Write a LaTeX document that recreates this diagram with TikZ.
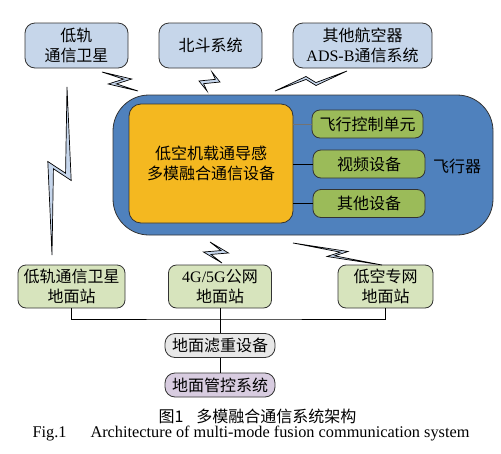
\documentclass[tikz,border=0pt]{standalone}
\usepackage{fontspec}
\setmainfont{Liberation Serif}
\newfontfamily\cjk{Noto Sans CJK SC}
\usetikzlibrary{calc}
\definecolor{skyblue}{HTML}{C6D6EA}
\definecolor{planeblue}{HTML}{4F81BD}
\definecolor{coreyellow}{HTML}{F4B820}
\definecolor{unitgreen}{HTML}{9BBB59}
\definecolor{stationgreen}{HTML}{D7E4BD}
\definecolor{filtergray}{HTML}{E8E8E8}
\definecolor{ctrlpurple}{HTML}{D8CCE0}
\definecolor{boltblue}{HTML}{C6D6EC}
% lightning link: from #1 to #2, #3 = offset of the zig corner
\newcommand{\bolt}[3]{%
  \coordinate (bm) at ($(#1)!0.5!(#2)$);
  \draw [boltline] (#1) -- ($(bm)+(#3)$) -- ($(bm)!2.5pt!(#2)-0.5*(#3)$) -- (#2)
    -- ($(bm)-(#3)$) -- ($(bm)!2.5pt!(#1)+0.5*(#3)$) -- cycle;
}
\begin{document}
\begin{tikzpicture}[x=1pt, y=-1pt,
    box/.style={draw=black!80, line width=0.8pt, rounded corners=8pt, inner sep=0pt,
      align=center, font=\cjk\fontsize{16}{20}\selectfont},
    skybox/.style={box, fill=skyblue, rounded corners=10pt, minimum height=45pt},
    unitbox/.style={box, fill=unitgreen, minimum width=112pt, minimum height=28pt},
    stationbox/.style={box, fill=stationgreen, minimum height=43pt},
    groundbox/.style={box, rounded corners=10pt, minimum width=110pt, minimum height=24pt},
    boltline/.style={draw=black, fill=boltblue, line width=0.7pt},
    link/.style={draw=black, line width=0.8pt}]
  \useasboundingbox (0,0) rectangle (501,453);

  \node [skybox, minimum width=103pt] (leo) at (76.5,45.5) {低轨\\通信卫星};
  \node [skybox, minimum width=103pt] (bds) at (210.5,45.5) {北斗系统};
  \node [skybox, minimum width=139pt] (adsb) at (362.5,45.5) {其他航空器\\{\rmfamily ADS-B}通信系统};

  \node [box, fill=planeblue, rounded corners=36pt, minimum width=380pt, minimum height=140pt] (plane) at (303,165) {};
  \node [box, fill=coreyellow, rounded corners=12pt, minimum width=164pt, minimum height=119pt] (core) at (211,163.5) {低空机载通导感\\多模融合通信设备};
  \node [unitbox, minimum width=111pt] (fcu) at (367.5,124) {飞行控制单元};
  \node [unitbox] (video) at (369,164) {视频设备};
  \node [unitbox] (other) at (369,203.5) {其他设备};
  \node [font=\cjk\fontsize{16}{20}\selectfont] (planelbl) at (457,166) {飞行器};
  \draw [link, draw=black!55] (fcu.west -| core.east) -- (fcu.west);
  \draw [link] (video.west -| core.east) -- (video.west);
  \draw [link] (other.west -| core.east) -- (other.west);

  \node [stationbox, minimum width=107pt] (leost) at (71.5,286.5) {低轨通信卫星\\地面站};
  \node [stationbox, minimum width=103pt] (cell) at (220,286.5) {{\rmfamily 4G/5G}公网\\地面站};
  \node [stationbox, minimum width=95pt] (lap) at (385.5,286.5) {低空专网\\地面站};
  \node [groundbox, fill=filtergray] (filter) at (220,345.5) {地面滤重设备};
  \node [groundbox, fill=ctrlpurple] (ctrl) at (220,385) {地面管控系统};
  \coordinate (bus) at (220,319);
  \draw [link] (leost.south) |- (bus) -| (lap.south);
  \draw [link] (cell.south) -- (filter.north);
  \draw [link] (filter.south) -- (ctrl.north);

  \coordinate (leoup) at (102,72);   \coordinate (leodown) at (138,91);
  \coordinate (bdsup) at (212,72);   \coordinate (bdsdown) at (207,91);
  \coordinate (adsbup) at (347,71);  \coordinate (adsbdown) at (275,91);
  \coordinate (leostup) at (67,87);  \coordinate (leostdown) at (52,255);
  \coordinate (cellup) at (210,242); \coordinate (celldown) at (222,263);
  \coordinate (lapup) at (293,243);  \coordinate (lapdown) at (382,265);
  \bolt{leoup}{leodown}{11.7,-2.5}
  \bolt{bdsup}{bdsdown}{10.5,0.5}
  \bolt{adsbup}{adsbdown}{5,4.5}
  \bolt{leostup}{leostdown}{11.7,9.5}
  \bolt{cellup}{celldown}{12.5,0.5}
  \bolt{lapup}{lapdown}{10.5,-2.5}

  \node [font=\cjk\fontsize{16}{20}\selectfont] (capzh) at (257.5,416.5) {图1\hspace{13pt}多模融合通信系统架构};
  \node [font=\fontsize{16.3}{19}\selectfont] (capen) at (251,433.5) {Fig.1\hspace{24pt}Architecture of multi-mode fusion communication system};
\end{tikzpicture}
\end{document}
